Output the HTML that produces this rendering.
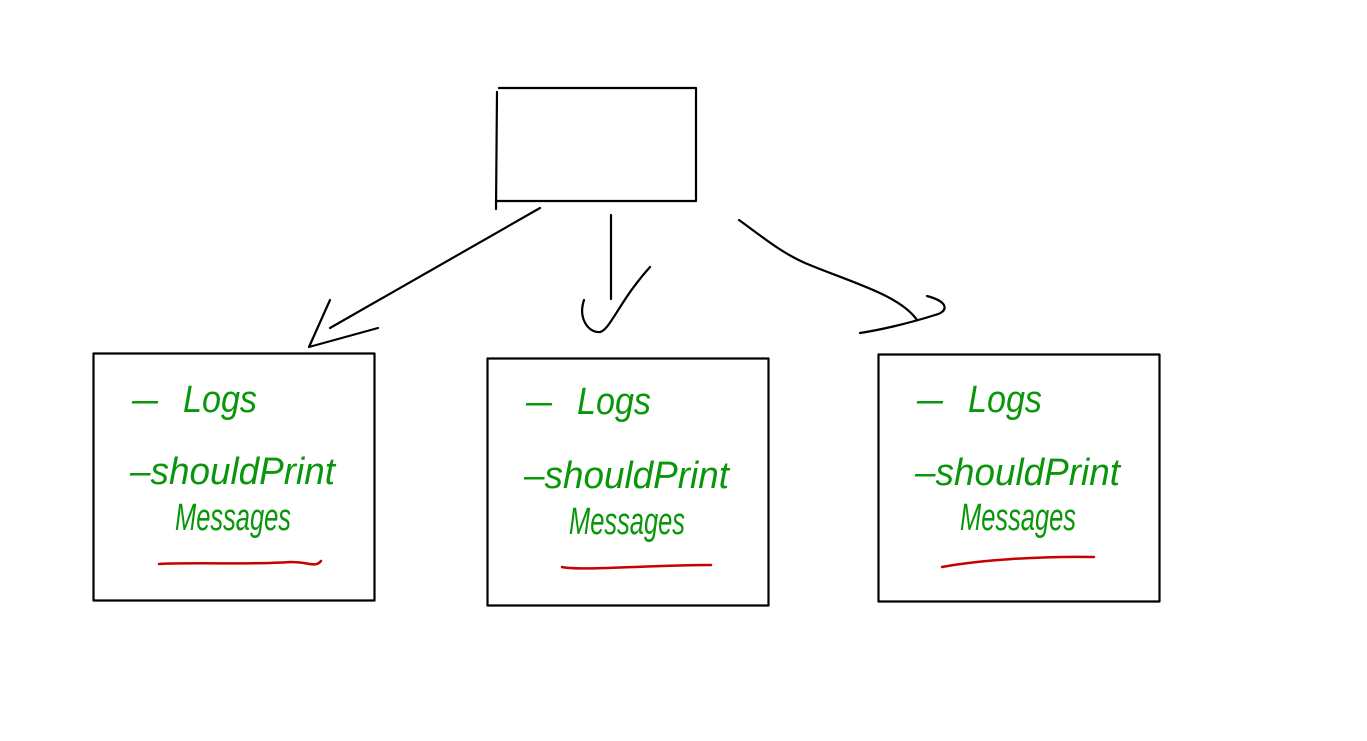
<!DOCTYPE html>
<html>
<head>
<meta charset="utf-8">
<style>
html,body{margin:0;padding:0;background:#fff;}
svg{display:block;}
text{font-family:"Liberation Sans",sans-serif;font-style:italic;fill:#0a960a;}
</style>
</head>
<body>
<svg width="1367" height="741" viewBox="0 0 1367 741" xmlns="http://www.w3.org/2000/svg">
<g fill="none" stroke="#000" stroke-width="2.2" stroke-linecap="round" stroke-linejoin="round">
  <path d="M499 88 L696 88 L696 201 L496 201"/>
  <path d="M497 92 L496 209"/>
  <path d="M540 208 L330 328"/>
  <path d="M330 300 L309 347 L378 328"/>
  <path d="M611 215 L611 299"/>
  <path d="M584 300 C578 318 588 333 600 332 C610 330 620 300 650 267"/>
  <path d="M739 220 C760 235 780 252 805 263 C850 282 900 295 917 320"/>
  <path d="M927 296 C950 302 948 312 935 315 C910 323 880 330 860 333"/>
  <rect x="93.5" y="353.5" width="281" height="247"/>
  <rect x="487.5" y="358.5" width="281" height="247"/>
  <rect x="878.5" y="354.5" width="281" height="247"/>
</g>
<g font-size="38" lengthAdjust="spacingAndGlyphs">
  <text x="132" y="412" textLength="26" lengthAdjust="spacingAndGlyphs">–</text>
  <text x="183" y="412" textLength="74" lengthAdjust="spacingAndGlyphs">Logs</text>
  <text x="130" y="484" textLength="205" lengthAdjust="spacingAndGlyphs">–shouldPrint</text>
  <text x="175" y="530" textLength="116" lengthAdjust="spacingAndGlyphs">Messages</text>

  <text x="526" y="414" textLength="26" lengthAdjust="spacingAndGlyphs">–</text>
  <text x="577" y="414" textLength="74" lengthAdjust="spacingAndGlyphs">Logs</text>
  <text x="524" y="488" textLength="205" lengthAdjust="spacingAndGlyphs">–shouldPrint</text>
  <text x="569" y="534" textLength="116" lengthAdjust="spacingAndGlyphs">Messages</text>

  <text x="917" y="412" textLength="26" lengthAdjust="spacingAndGlyphs">–</text>
  <text x="968" y="412" textLength="74" lengthAdjust="spacingAndGlyphs">Logs</text>
  <text x="915" y="485" textLength="205" lengthAdjust="spacingAndGlyphs">–shouldPrint</text>
  <text x="960" y="530" textLength="116" lengthAdjust="spacingAndGlyphs">Messages</text>
</g>
<g fill="none" stroke="#c80000" stroke-width="2.5" stroke-linecap="round">
  <path d="M159 564 C200 562 250 565 290 562 C310 562 315 568 321 561"/>
  <path d="M562 567 C580 571 650 565 711 565"/>
  <path d="M942 567 C980 560 1040 556 1094 557"/>
</g>
</svg>
</body>
</html>
